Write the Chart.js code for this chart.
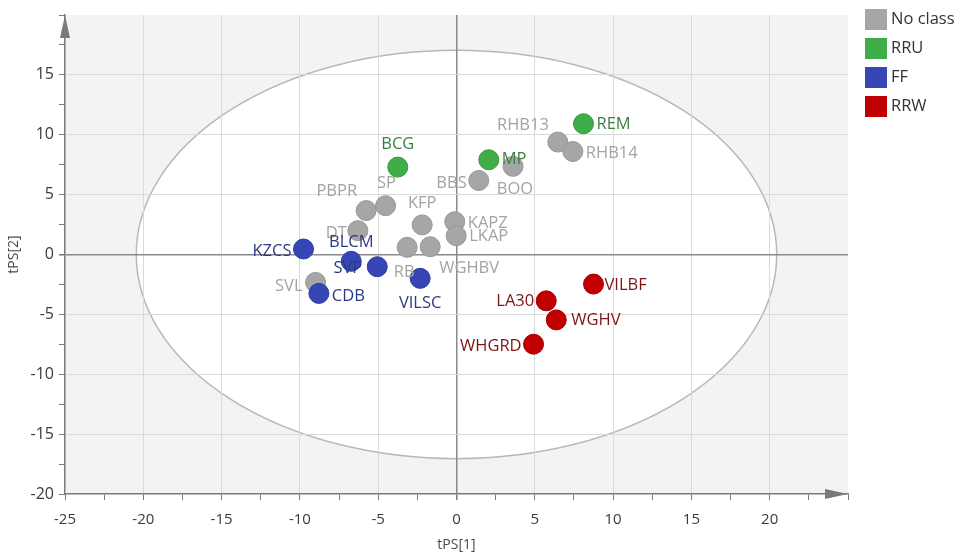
<!DOCTYPE html>
<html>
<head>
<meta charset="utf-8">
<title>tPS[1] / tPS[2] score plot</title>
<script src="https://cdn.jsdelivr.net/npm/chart.js@4.4.1/dist/chart.umd.min.js"></script>
<style>
  html, body { margin: 0; padding: 0; background: #ffffff; }
  #wrap { width: 966px; height: 554px; }
</style>
</head>
<body>
<div id="wrap"><canvas id="c" width="966" height="554"></canvas></div>
<script>
// ---- data ----
const classNames = ['No class', 'RRU', 'FF', 'RRW'];

const noClassIds = ['RHB13', 'RHB14', 'BOO', 'BBS', 'PBPR', 'SP', 'KFP', 'DT', 'KAPZ', 'LKAP', 'RB', 'WGHBV', 'SVL'];
const noClassX   = [6.47, 7.43, 3.61, 1.42, -5.77, -4.53, -2.19, -6.30, -0.11, -0.02, -3.15, -1.68, -9.00];
const noClassY   = [9.39, 8.60, 7.36, 6.18, 3.67, 4.08, 2.47, 1.99, 2.74, 1.57, 0.60, 0.65, -2.33];

const rruIds = ['BCG', 'MP', 'REM'];
const rruX   = [-3.75, 2.06, 8.11];
const rruY   = [7.30, 7.91, 10.92];

const ffIds = ['KZCS', 'BLCM', 'SVP', 'VILSC', 'CDB'];
const ffX   = [-9.77, -6.72, -5.06, -2.32, -8.79];
const ffY   = [0.46, -0.57, -1.02, -1.99, -3.25];

const rrwIds = ['VILBF', 'LA30', 'WGHV', 'WHGRD'];
const rrwX   = [8.75, 5.73, 6.37, 4.92];
const rrwY   = [-2.47, -3.87, -5.46, -7.49];

// Hotelling T2 ellipse semi-axes (score units)
const ellipseA = 20.45;
const ellipseB = 17.05;

// axis tick values shown as labels
const xTickLabels = [-25, -20, -15, -10, -5, 0, 5, 10, 15, 20];
const yTickLabels = [-20, -15, -10, -5, 0, 5, 10, 15];

// ---- styling ----
const classStyle = [
  { fill: '#a6a6a6', border: '#979797', text: '#a3a3a3' },
  { fill: '#3fae49', border: '#35983d', text: '#3d7d45' },
  { fill: '#3646b6', border: '#2d3c9f', text: '#2c3a86' },
  { fill: '#c00000', border: '#a30000', text: '#7e1515' }
];

// label placement relative to the marker: [dx, dy, textAlign]
const labelPlace = {
  RHB13: [-9, -17, 'right'], RHB14: [13, 2, 'left'], BOO: [2, 23, 'center'], BBS: [-12, 3, 'right'],
  PBPR: [-9, -19, 'right'], SP: [1, -22, 'center'], KFP: [0, -22, 'center'], DT: [-11, 3, 'right'],
  KAPZ: [13, 2, 'left'], LKAP: [13, 1, 'left'], RB: [-3, 25, 'center'], WGHBV: [9, 22, 'left'],
  SVL: [-13, 4, 'right'],
  BCG: [0, -23, 'center'], MP: [13, 0, 'left'], REM: [13, 1, 'left'],
  KZCS: [-12, 2, 'right'], BLCM: [0, -19, 'center'], SVP: [-15, 2, 'right'], VILSC: [0, 25, 'center'],
  CDB: [13, 3, 'left'],
  VILBF: [11, 1, 'left'], LA30: [-12, 0, 'right'], WGHV: [15, 0, 'left'], WHGRD: [-12, 2, 'right']
};

const FONT = "'Open Sans', 'DejaVu Sans', sans-serif";

function pts(xs, ys) { return xs.map((v, i) => ({ x: v, y: ys[i] })); }

const groups = [
  { ids: noClassIds, x: noClassX, y: noClassY },
  { ids: rruIds, x: rruX, y: rruY },
  { ids: ffIds, x: ffX, y: ffY },
  { ids: rrwIds, x: rrwX, y: rrwY }
];

const datasets = groups.map((g, i) => ({
  label: classNames[i],
  data: pts(g.x, g.y),
  ids: g.ids,
  backgroundColor: classStyle[i].fill,
  borderColor: classStyle[i].border,
  borderWidth: 1,
  pointRadius: 10,
  pointHoverRadius: 10,
  order: 3 - i
}));

// plot background and confidence ellipse
const plotBackground = {
  id: 'plotBackground',
  beforeDraw(chart) {
    const { ctx, chartArea: a, scales: { x, y } } = chart;
    ctx.save();
    ctx.fillStyle = '#f3f3f3';
    ctx.fillRect(a.left, a.top, a.right - a.left, a.bottom - a.top);
    const cx = x.getPixelForValue(0), cy = y.getPixelForValue(0);
    const rx = x.getPixelForValue(ellipseA) - cx;
    const ry = cy - y.getPixelForValue(ellipseB);
    ctx.beginPath();
    ctx.ellipse(cx, cy, rx, ry, 0, 0, Math.PI * 2);
    ctx.fillStyle = '#ffffff';
    ctx.fill();
    ctx.lineWidth = 1.5;
    ctx.strokeStyle = '#b8b8b8';
    ctx.stroke();
    ctx.restore();
  }
};

// observation names next to the markers
const pointNames = {
  id: 'pointNames',
  afterDatasetsDraw(chart) {
    const ctx = chart.ctx;
    ctx.save();
    ctx.font = '16.5px ' + FONT;
    ctx.textBaseline = 'middle';
    chart.data.datasets.forEach((ds, di) => {
      const meta = chart.getDatasetMeta(di);
      meta.data.forEach((el, j) => {
        const id = ds.ids[j];
        const p = labelPlace[id] || [13, 0, 'left'];
        ctx.fillStyle = classStyle[di].text;
        ctx.textAlign = p[2];
        ctx.fillText(id, el.x + p[0], el.y + p[1]);
      });
    });
    ctx.restore();
  }
};

// arrow heads, axis titles and class legend
const decorations = {
  id: 'decorations',
  afterDraw(chart) {
    const { ctx, chartArea: a } = chart;
    ctx.save();
    ctx.fillStyle = '#7a7a7a';
    // y arrow
    ctx.beginPath();
    ctx.moveTo(a.left, a.top);
    ctx.lineTo(a.left - 5, a.top + 23);
    ctx.lineTo(a.left + 5, a.top + 23);
    ctx.closePath();
    ctx.fill();
    // x arrow
    ctx.beginPath();
    ctx.moveTo(a.right, a.bottom);
    ctx.lineTo(a.right - 23, a.bottom - 5);
    ctx.lineTo(a.right - 23, a.bottom + 5);
    ctx.closePath();
    ctx.fill();

    // axis titles
    ctx.fillStyle = '#4a4a4a';
    ctx.font = '14px ' + FONT;
    ctx.textAlign = 'center';
    ctx.textBaseline = 'middle';
    ctx.fillText('tPS[1]', chart.scales.x.getPixelForValue(0), 545);
    ctx.save();
    ctx.translate(14, chart.scales.y.getPixelForValue(0));
    ctx.rotate(-Math.PI / 2);
    ctx.fillText('tPS[2]', 0, 0);
    ctx.restore();

    // legend
    ctx.font = '16.5px ' + FONT;
    ctx.textAlign = 'left';
    chart.data.datasets.forEach((ds, i) => {
      const top = 9 + i * 29;
      ctx.fillStyle = ds.backgroundColor;
      ctx.fillRect(865, top, 22, 21);
      ctx.fillStyle = '#333333';
      ctx.fillText(ds.label, 891, top + 10.5);
    });
    ctx.restore();
  }
};

function gridColor(ctx) {
  const v = ctx.tick ? ctx.tick.value : null;
  if (v === 0) return '#8a8a8a';
  if (v !== null && Math.abs(v % 5) < 1e-9) return '#dadada';
  return 'rgba(0,0,0,0)';
}

new Chart(document.getElementById('c'), {
  type: 'scatter',
  data: { datasets },
  options: {
    responsive: false,
    animation: false,
    layout: { padding: { top: 15, right: 118, left: 0, bottom: 0 } },
    plugins: { legend: { display: false }, tooltip: { enabled: false } },
    scales: {
      x: {
        type: 'linear',
        min: -25, max: 25,
        afterFit(s) { s.height = 60; },
        border: { color: '#7a7a7a', width: 1.5 },
        grid: {
          color: (c) => (c.tick && (c.tick.value === 25 || c.tick.value === -25)) ? 'rgba(0,0,0,0)' : gridColor(c),
          lineWidth: (c) => (c.tick && c.tick.value === 0) ? 1.5 : 1,
          tickColor: '#7a7a7a',
          tickLength: 6
        },
        ticks: {
          stepSize: 2.5,
          autoSkip: false,
          maxRotation: 0,
          padding: 11,
          color: '#3a3a3a',
          font: { family: FONT, size: 15 },
          callback: (v) => xTickLabels.includes(v) ? String(v) : ''
        }
      },
      y: {
        type: 'linear',
        min: -20, max: 20,
        afterFit(s) { s.width = 65; },
        border: { color: '#7a7a7a', width: 1.5 },
        grid: {
          color: (c) => (c.tick && (c.tick.value === 20 || c.tick.value === -20)) ? 'rgba(0,0,0,0)' : gridColor(c),
          lineWidth: (c) => (c.tick && c.tick.value === 0) ? 1.5 : 1,
          tickColor: '#7a7a7a',
          tickLength: 6
        },
        ticks: {
          stepSize: 2.5,
          autoSkip: false,
          padding: 5,
          color: '#3a3a3a',
          font: { family: FONT, size: 16 },
          callback: (v) => yTickLabels.includes(v) ? String(v) : ''
        }
      }
    }
  },
  plugins: [plotBackground, pointNames, decorations]
});
</script>
</body>
</html>
